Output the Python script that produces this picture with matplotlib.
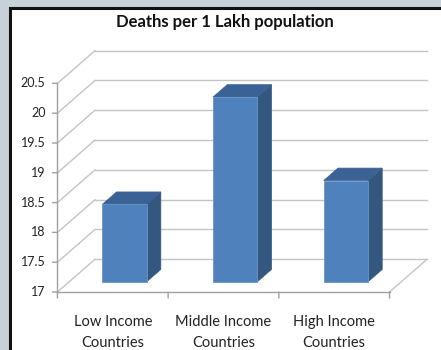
import matplotlib.pyplot as plt
import numpy as np
from matplotlib.patches import Polygon, Rectangle

# data
categories = ["Low Income\nCountries", "Middle Income\nCountries", "High Income\nCountries"]
deaths = [18.3, 20.1, 18.7]
y_ticks = [17, 17.5, 18, 18.5, 19, 19.5, 20, 20.5]
y_tick_labels = ["17", "17.5", "18", "18.5", "19", "19.5", "20", "20.5"]
title = "Deaths per 1 Lakh population"

# oblique 3d look (in data units)
DX, DY = 0.339, 0.549      # full depth offset
D0, D1 = 0.31, 0.69        # bar depth span (fraction of full depth)
BAR_W = 0.4
BASE = y_ticks[0]

FRONT = "#4F81BD"
SIDE = "#34577F"
TOP = "#3B6294"
GRID = "#C4C4C4"
AXIS = "#A0A0A0"

plt.rcParams["font.family"] = ["Lato", "DejaVu Sans"]

fig = plt.figure(figsize=(4.41, 3.5), dpi=100)
fig.patch.set_facecolor("#C6D1D9")
# white chart area with dark border (bottom/right run off the picture)
fig.patches.append(Rectangle((10 / 441, -0.1), 1.2, 1.1 - 8 / 350, transform=fig.transFigure,
                             facecolor="white", edgecolor="#111111", linewidth=2.2, zorder=0))

ax = fig.add_axes([0, 0, 1, 1])
ax.set_zorder(1)
ax.set_xlim(-1.019, 2.965)
ax.set_ylim(16.027, 21.899)
ax.axis("off")

n = len(categories)
x0, x1 = -0.5, n - 0.5

# back wall and left wall gridlines
for t in y_ticks:
    ax.plot([x0 + DX, x1 + DX], [t + DY, t + DY], color=GRID, lw=1, zorder=1)
    ax.plot([x0, x0 + DX], [t, t + DY], color=GRID, lw=1, zorder=1)
# floor right edge
ax.plot([x1, x1 + DX], [BASE, BASE + DY], color=GRID, lw=1, zorder=1)

# bars
for i, v in enumerate(deaths):
    xl = i - BAR_W / 2 + D0 * DX
    xr = i + BAR_W / 2 + D0 * DX
    yb = BASE + D0 * DY
    yt = v + D0 * DY
    ddx = (D1 - D0) * DX
    ddy = (D1 - D0) * DY
    ax.add_patch(Polygon([(xr, yb), (xr + ddx, yb + ddy), (xr + ddx, yt + ddy), (xr, yt)],
                         closed=True, facecolor=SIDE, edgecolor=SIDE, lw=0.5, zorder=3))
    ax.add_patch(Polygon([(xl, yt), (xr, yt), (xr + ddx, yt + ddy), (xl + ddx, yt + ddy)],
                         closed=True, facecolor=TOP, edgecolor=TOP, lw=0.5, zorder=3))
    ax.add_patch(Rectangle((xl, yb), xr - xl, yt - yb, facecolor=FRONT,
                           edgecolor="#6A95C9", lw=0.6, zorder=4))

# front axes
ax.plot([x0, x0], [y_ticks[0], y_ticks[-1]], color=AXIS, lw=1, zorder=2)
ax.plot([x0, x1], [BASE, BASE], color=AXIS, lw=1, zorder=2)
for t, lab in zip(y_ticks, y_tick_labels):
    ax.annotate("", xy=(x0, t), xytext=(-5, 0), textcoords="offset pixels",
                arrowprops=dict(arrowstyle="-", color=AXIS, lw=1, shrinkA=0, shrinkB=0))
    ax.annotate(lab, xy=(x0, t), xytext=(-12, 0), textcoords="offset pixels",
                ha="right", va="center", fontsize=9, color="#222222")
for b in np.arange(n + 1) - 0.5:
    ax.annotate("", xy=(b, BASE), xytext=(0, -6), textcoords="offset pixels",
                arrowprops=dict(arrowstyle="-", color=AXIS, lw=1, shrinkA=0, shrinkB=0))
for i, lab in enumerate(categories):
    ax.annotate(lab, xy=(i, BASE), xytext=(0, -23), textcoords="offset pixels",
                ha="center", va="top", fontsize=10.5, color="#222222", linespacing=1.6)

fig.text(225 / 441, 1 - 22 / 350, title, ha="center", va="center",
         fontsize=12, fontweight="bold", color="#111111")

fig.savefig("out.png", dpi=100)
